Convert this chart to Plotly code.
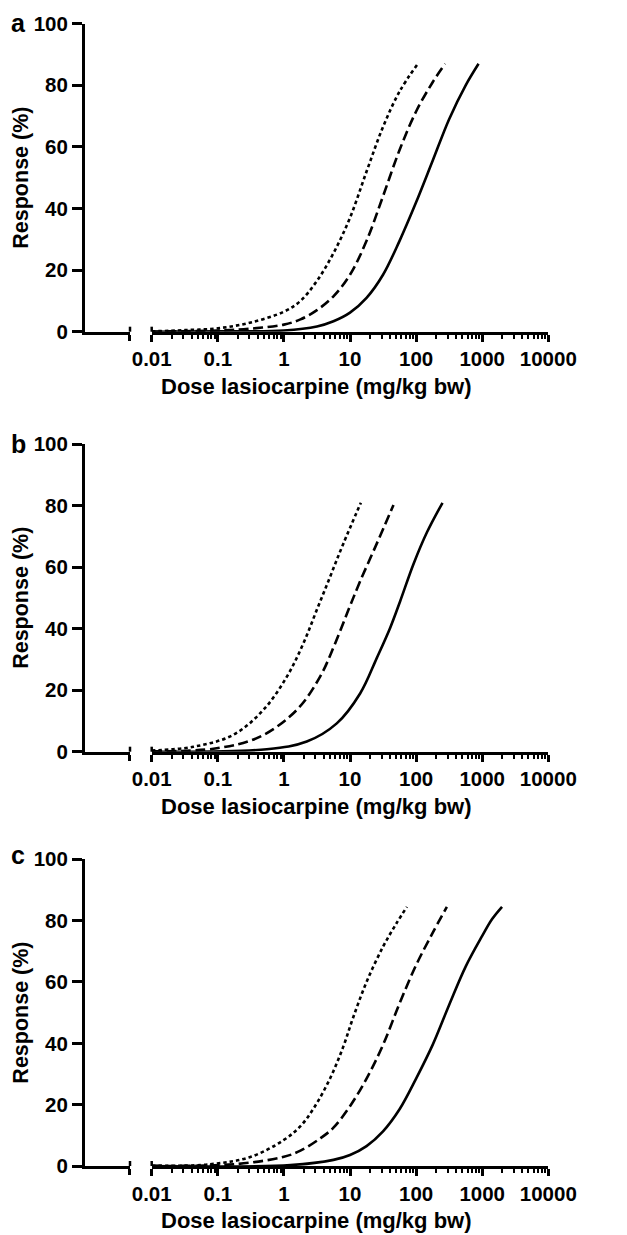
import plotly.graph_objects as go

# ---------------- data ----------------
DOSE_TICKS = [0.01, 0.1, 1, 10, 100, 1000, 10000]
DOSE_TICK_LABELS = ["0.01", "0.1", "1", "10", "100", "1000", "10000"]
RESP_TICKS = [0, 20, 40, 60, 80, 100]
RESP_TICK_LABELS = ["0", "20", "40", "60", "80", "100"]
PANEL_LABELS = ["a", "b", "c"]
X_TITLE = "Dose lasiocarpine (mg/kg bw)"
Y_TITLE = "Response (%)"

# panel a
a_solid_dose = [0.01, 0.1, 1, 3.16, 5.62, 10, 17.8, 31.6, 56.2, 100, 178, 316, 562, 881]
a_solid_resp = [0.0, 0.1, 0.4, 1.7, 3.4, 6.2, 11.0, 18.5, 29.5, 42.0, 55.5, 69.0, 80.0, 87.0]
a_dashed_dose = [0.01, 0.1, 0.316, 1, 1.78, 3.16, 5.62, 10, 17.8, 31.6, 56.2, 100, 178, 275]
a_dashed_resp = [0.05, 0.4, 1.0, 2.3, 4.0, 7.0, 11.5, 18.5, 29.5, 44.0, 59.0, 71.5, 81.0, 87.0]
a_dotted_dose = [0.01, 0.0316, 0.1, 0.316, 1, 1.78, 3.16, 5.62, 10, 17.8, 31.6, 56.2, 103]
a_dotted_resp = [0.1, 0.5, 1.1, 3.0, 6.5, 10.0, 16.5, 25.5, 37.0, 52.0, 66.5, 78.0, 86.6]

# panel b
b_solid_dose = [0.01, 0.551, 2.22, 6.31, 14.3, 25.5, 40.6, 57.4, 91.4, 146, 251]
b_solid_resp = [0.0, 0.8, 3.3, 9.2, 19.0, 30.5, 40.3, 48.9, 61.0, 71.3, 80.9]
b_dashed_dose = [0.01, 0.096, 0.437, 1.57, 3.53, 5.96, 9.48, 14.3, 25.5, 45.5]
b_dashed_resp = [0.1, 1.1, 4.9, 13.6, 24.4, 35.2, 46.1, 55.5, 67.7, 80.2]
b_dotted_dose = [0.01, 0.0427, 0.172, 0.49, 1.11, 1.97, 3.15, 5.01, 7.96, 14.6]
b_dotted_resp = [0.4, 1.6, 5.5, 13.6, 24.4, 35.2, 46.1, 56.9, 67.7, 80.9]

# panel c
c_solid_dose = [0.01, 1.26, 5.62, 10, 17.8, 31.6, 56.2, 100, 178, 316, 562, 1000, 1413, 1995]
c_solid_resp = [0.0, 0.3, 2.0, 3.6, 6.5, 11.3, 18.5, 28.5, 39.5, 52.5, 65.0, 75.0, 80.5, 84.5]
c_dashed_dose = [0.01, 0.172, 1, 1.78, 3.55, 5.62, 10, 17.8, 31.6, 56.2, 100, 178, 292]
c_dashed_resp = [0.05, 0.55, 3.0, 5.0, 9.0, 12.5, 19.5, 28.5, 39.5, 53.0, 65.5, 76.0, 84.5]
c_dotted_dose = [0.01, 0.0764, 0.316, 1, 1.78, 2.82, 5.01, 7.94, 11.2, 17.8, 31.6, 50.1, 72.6]
c_dotted_resp = [0.1, 0.55, 3.0, 8.5, 13.0, 18.8, 28.6, 39.0, 48.5, 60.0, 71.5, 79.0, 84.5]

panels = [
    [(a_solid_dose, a_solid_resp), (a_dashed_dose, a_dashed_resp), (a_dotted_dose, a_dotted_resp)],
    [(b_solid_dose, b_solid_resp), (b_dashed_dose, b_dashed_resp), (b_dotted_dose, b_dotted_resp)],
    [(c_solid_dose, c_solid_resp), (c_dashed_dose, c_dashed_resp), (c_dotted_dose, c_dotted_resp)],
]

# ---------------- layout geometry ----------------
# the page body has an 8px default margin; the figure is placed after it
OFF = 8
W, H = 627 - OFF, 1235 - OFF
FONT = "Liberation Sans, Arial, sans-serif"
BLACK = "#000000"


def px_x(v):
    return (v - OFF) / W


def px_y(v):
    return 1 - (v - OFF) / H


panel_px = [(23.7, 331.7), (444.0, 751.7), (859.3, 1166.0)]
letter_center_offset = [0.0, 0.7, -3.0]

x_left_dom = [px_x(85), px_x(130)]
x_main_dom = [px_x(151.7), px_x(548.3)]

minor_vals = []
for dec in [0.01, 0.1, 1, 10, 100, 1000]:
    for m in range(2, 10):
        minor_vals.append(dec * m)

styles = ["solid", "10px,4.5px", "3.5px,3px"]

fig = go.Figure()
layout = dict(
    template="none",
    width=W, height=H,
    margin=dict(l=0, r=0, t=0, b=0, pad=0, autoexpand=False),
    paper_bgcolor="white", plot_bgcolor="white",
    showlegend=False,
    font=dict(family=FONT, color=BLACK, size=20, weight="bold"),
)
annotations = []
shapes = []

for i, (top, bot) in enumerate(panel_px):
    ydom = [px_y(bot), px_y(top)]
    yid = "y" if i == 0 else f"y{i + 1}"
    xl = "x" if i == 0 else f"x{2 * i + 1}"
    xm = f"x{2 * i + 2}"
    ykey = "yaxis" if i == 0 else f"yaxis{i + 1}"
    xlkey = "xaxis" if i == 0 else f"xaxis{2 * i + 1}"
    xmkey = f"xaxis{2 * i + 2}"

    layout[ykey] = dict(
        domain=ydom, anchor=xl, range=[0, 100], automargin=False,
        tickmode="array", tickvals=RESP_TICKS, ticktext=RESP_TICK_LABELS,
        ticks="outside", ticklen=10, tickwidth=2.5, tickcolor=BLACK,
        showline=True, linewidth=3, linecolor=BLACK,
        showgrid=False, zeroline=False, fixedrange=True,
        tickfont=dict(family=FONT, size=20.5, color=BLACK, weight="bold"),
    )
    layout[xlkey] = dict(
        domain=x_left_dom, anchor=yid, range=[0, 1], automargin=False,
        tickmode="array", tickvals=[0.999], ticktext=[""],
        ticks="outside", ticklen=6, tickwidth=2.5, tickcolor=BLACK,
        showline=True, linewidth=3, linecolor=BLACK,
        showgrid=False, zeroline=False, fixedrange=True,
    )
    layout[xmkey] = dict(
        domain=x_main_dom, anchor=yid, type="log", range=[-2, 4], automargin=False,
        tickmode="array", tickvals=DOSE_TICKS, ticktext=DOSE_TICK_LABELS,
        ticks="outside", ticklen=7, tickwidth=2.5, tickcolor=BLACK,
        minor=dict(tickmode="array", tickvals=minor_vals, ticks="outside", ticklen=4,
                   tickwidth=2, tickcolor=BLACK, showgrid=False),
        showline=True, linewidth=3, linecolor=BLACK,
        showgrid=False, zeroline=False, fixedrange=True,
        tickfont=dict(family=FONT, size=20.5, color=BLACK, weight="bold"),
    )

    # empty trace so the short (axis-break) segment gets its own subplot
    fig.add_trace(go.Scatter(x=[], y=[], mode="lines", xaxis=xl, yaxis=yid,
                             hoverinfo="skip"))

    for (dose, resp), dash in zip(panels[i], styles):
        fig.add_trace(go.Scatter(
            x=dose, y=resp, mode="lines", xaxis=xm, yaxis=yid,
            line=dict(color=BLACK, width=2.6, dash=dash,
                      shape="spline", smoothing=1.0),
            hoverinfo="skip",
        ))

    # axis-break crossing ticks (upper halves)
    for xr, xv in [(f"{xl} domain", 1), (f"{xm} domain", 0)]:
        shapes.append(dict(
            type="line", xref=xr, yref=f"{yid} domain",
            x0=xv, x1=xv, y0=0, y1=5 / (bot - top),
            line=dict(color=BLACK, width=2.5),
        ))

    annotations.append(dict(
        text=X_TITLE, xref="paper", yref="paper",
        x=px_x(316.6), y=px_y(bot + 54.5), xanchor="center", yanchor="middle",
        showarrow=False, font=dict(family=FONT, size=22, color=BLACK, weight="bold"),
    ))
    annotations.append(dict(
        text=Y_TITLE, xref="paper", yref="paper", textangle=-90,
        x=px_x(21), y=px_y((top + bot) / 2), xanchor="center", yanchor="middle",
        showarrow=False, font=dict(family=FONT, size=21.5, color=BLACK, weight="bold"),
    ))
    annotations.append(dict(
        text=PANEL_LABELS[i], xref="paper", yref="paper",
        x=px_x(9), y=px_y(top + letter_center_offset[i] - 1),
        xanchor="left", yanchor="middle",
        showarrow=False, font=dict(family=FONT, size=25, color=BLACK, weight="bold"),
    ))

layout["annotations"] = annotations
layout["shapes"] = shapes
fig.update_layout(**layout)
fig.write_html("out.html")
